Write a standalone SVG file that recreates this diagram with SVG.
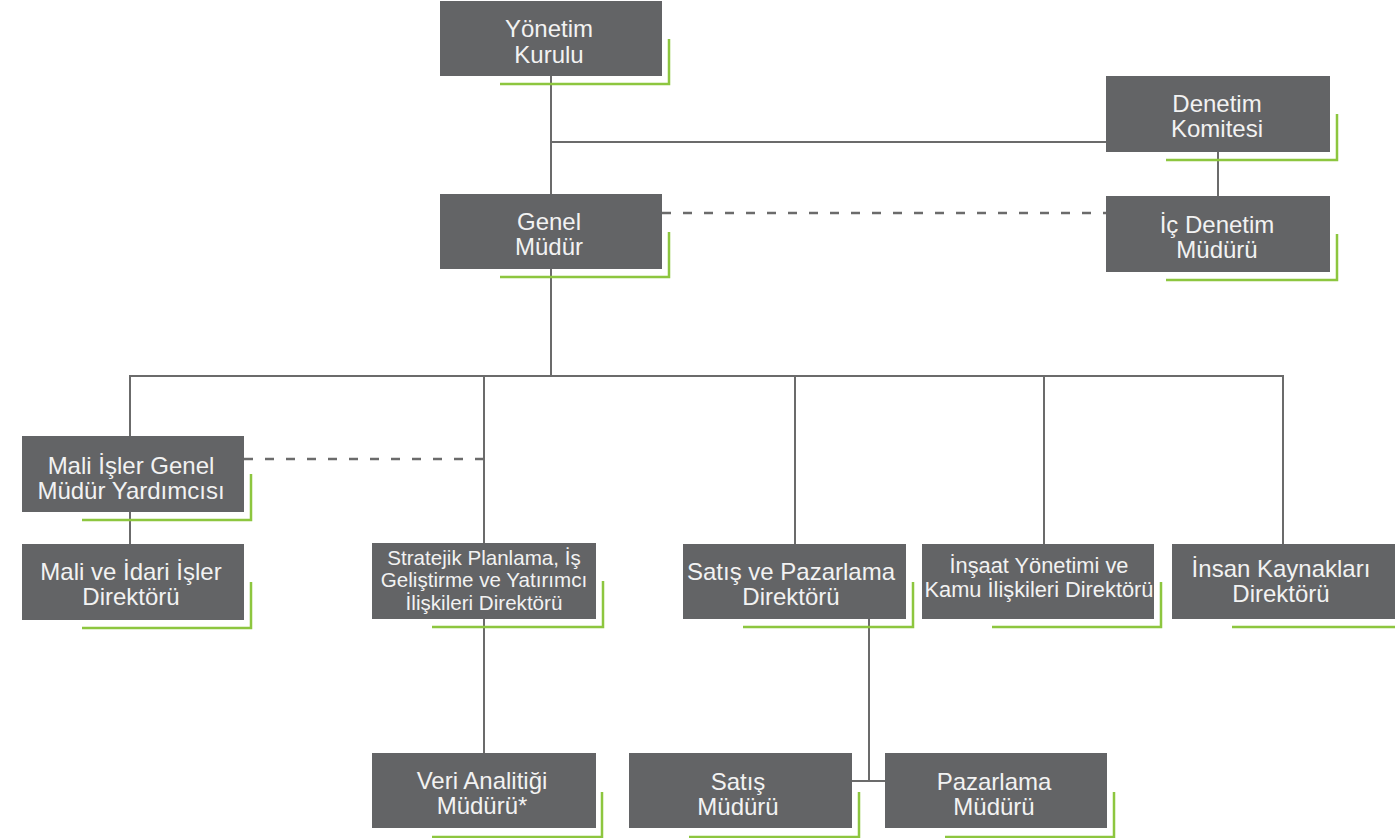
<svg xmlns="http://www.w3.org/2000/svg" width="1395" height="838" viewBox="0 0 1395 838">
<style>
.box{fill:#636466}
.acc{fill:none;stroke:#8dc63f;stroke-width:2.5}
.t{font-family:"Liberation Sans",Arial,sans-serif;font-size:24px;fill:#f2f2f2;text-anchor:middle}
.s{font-size:21.8px}
.xs{font-size:20.6px}
.ln{stroke:#6b6b6b;stroke-width:2;fill:none}
.dash{stroke:#6b6b6b;stroke-width:2.5;fill:none;stroke-dasharray:9 12}
</style>
<rect width="1395" height="838" fill="#ffffff"/>
<g id="connectors">
<line class="ln" x1="551" y1="76" x2="551" y2="194"/>
<line class="ln" x1="551" y1="142" x2="1106" y2="142"/>
<line class="ln" x1="1218" y1="152" x2="1218" y2="196"/>
<line class="dash" x1="662" y1="213" x2="1106" y2="213"/>
<line class="ln" x1="551" y1="269" x2="551" y2="376"/>
<line class="ln" x1="129" y1="376" x2="1284" y2="376"/>
<line class="ln" x1="130" y1="376" x2="130" y2="436"/>
<line class="ln" x1="484" y1="376" x2="484" y2="543"/>
<line class="ln" x1="795" y1="376" x2="795" y2="544"/>
<line class="ln" x1="1044" y1="376" x2="1044" y2="544"/>
<line class="ln" x1="1283" y1="376" x2="1283" y2="544"/>
<line class="dash" x1="244" y1="459" x2="484" y2="459"/>
<line class="ln" x1="130" y1="512" x2="130" y2="544"/>
<line class="ln" x1="484" y1="619" x2="484" y2="753"/>
<line class="ln" x1="869" y1="619" x2="869" y2="781"/>
<line class="ln" x1="852" y1="781" x2="885" y2="781"/>
</g>
<g id="yonetim-kurulu">
<rect class="box" x="440" y="1" width="222" height="75"/>
<polyline class="acc" points="500,84 669,84 669,39"/>
<text class="t" x="549" y="37">Yönetim</text>
<text class="t" x="549" y="63">Kurulu</text>
</g>
<g id="denetim-komitesi">
<rect class="box" x="1106" y="76" width="224" height="76"/>
<polyline class="acc" points="1166,160 1337,160 1337,114"/>
<text class="t" x="1217" y="112">Denetim</text>
<text class="t" x="1217" y="137">Komitesi</text>
</g>
<g id="genel-mudur">
<rect class="box" x="440" y="194" width="222" height="75"/>
<polyline class="acc" points="500,277 669,277 669,232"/>
<text class="t" x="549" y="230">Genel</text>
<text class="t" x="549" y="255">Müdür</text>
</g>
<g id="ic-denetim">
<rect class="box" x="1106" y="196" width="224" height="76"/>
<polyline class="acc" points="1166,280 1337,280 1337,234"/>
<text class="t" x="1217" y="233">İç Denetim</text>
<text class="t" x="1217" y="258">Müdürü</text>
</g>
<g id="mali-isler-gmy">
<rect class="box" x="22" y="436" width="222" height="76"/>
<polyline class="acc" points="82,520 251,520 251,474"/>
<text class="t" x="131" y="474">Mali İşler Genel</text>
<text class="t" x="131" y="499">Müdür Yardımcısı</text>
</g>
<g id="mali-idari">
<rect class="box" x="22" y="544" width="222" height="76"/>
<polyline class="acc" points="82,628 251,628 251,582"/>
<text class="t" x="131" y="580">Mali ve İdari İşler</text>
<text class="t" x="131" y="605">Direktörü</text>
</g>
<g id="stratejik">
<rect class="box" x="372" y="543" width="224" height="76"/>
<polyline class="acc" points="432,627 603,627 603,581"/>
<text class="t xs" x="484" y="564.5">Stratejik Planlama, İş</text>
<text class="t xs" x="484" y="587">Geliştirme ve Yatırımcı</text>
<text class="t xs" x="484" y="609.5">İlişkileri Direktörü</text>
</g>
<g id="satis-pazarlama">
<rect class="box" x="683" y="544" width="223" height="75"/>
<polyline class="acc" points="743,627 913,627 913,582"/>
<text class="t" x="791" y="580">Satış ve Pazarlama</text>
<text class="t" x="791" y="605">Direktörü</text>
</g>
<g id="insaat">
<rect class="box" x="922" y="544" width="232" height="75"/>
<polyline class="acc" points="992,627 1161,627 1161,582"/>
<text class="t s" x="1039" y="573">İnşaat Yönetimi ve</text>
<text class="t s" x="1039" y="597">Kamu İlişkileri Direktörü</text>
</g>
<g id="insan-kaynaklari">
<rect class="box" x="1172" y="544" width="223" height="75"/>
<polyline class="acc" points="1232,627 1402,627 1402,582"/>
<text class="t" x="1281" y="577">İnsan Kaynakları</text>
<text class="t" x="1281" y="602">Direktörü</text>
</g>
<g id="veri-analitigi">
<rect class="box" x="372" y="753" width="224" height="75"/>
<polyline class="acc" points="432,837 602,837 602,792"/>
<text class="t" x="482" y="789">Veri Analitiği</text>
<text class="t" x="482" y="814">Müdürü*</text>
</g>
<g id="satis-mudur">
<rect class="box" x="629" y="753" width="223" height="75"/>
<polyline class="acc" points="689,837 859,837 859,792"/>
<text class="t" x="738" y="790">Satış</text>
<text class="t" x="738" y="815">Müdürü</text>
</g>
<g id="pazarlama-mudur">
<rect class="box" x="885" y="753" width="222" height="75"/>
<polyline class="acc" points="945,837 1114,837 1114,792"/>
<text class="t" x="994" y="790">Pazarlama</text>
<text class="t" x="994" y="815">Müdürü</text>
</g>
</svg>
